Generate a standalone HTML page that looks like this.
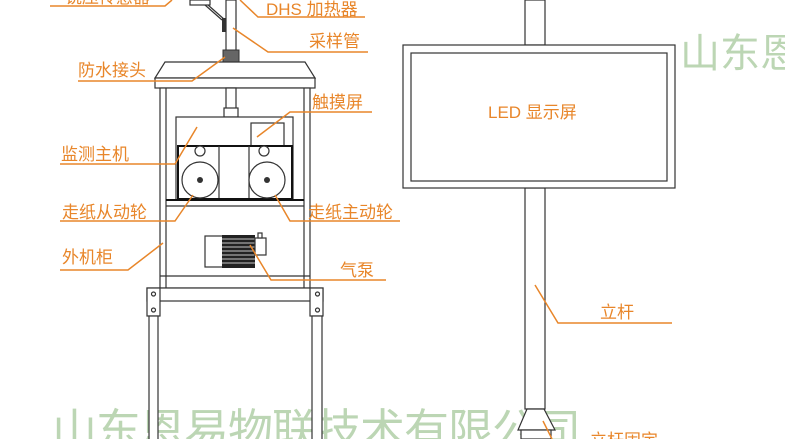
<!DOCTYPE html>
<html><head><meta charset="utf-8"><style>
html,body{margin:0;padding:0;background:#fff;width:785px;height:439px;overflow:hidden}
svg{display:block}
text{font-family:"Liberation Sans","Noto Sans CJK SC",sans-serif}
.o{fill:#e8862a;font-size:17px}
.l{stroke:#e8862a;stroke-width:1.5;fill:none}
.k{stroke:#333;stroke-width:1.2;fill:#fff}
.kn{stroke:#333;stroke-width:1.2;fill:none}
</style></head><body>
<svg width="785" height="439" viewBox="0 0 785 439" overflow="hidden">
<!-- watermarks -->
<text x="680" y="67" fill="#bcd6b4" font-size="40" style="font-family:'Noto Sans CJK SC',sans-serif">山东恩</text>
<text x="52" y="446" fill="#bcd6b4" font-size="45" letter-spacing="-1" style="font-family:'Noto Sans CJK SC',sans-serif">山东恩易物联技术有限公司</text>

<!-- top sensor / pipe -->
<rect x="190" y="0" width="20" height="5" class="k"/>
<line x1="205" y1="5" x2="222" y2="20" class="kn"/>
<line x1="208" y1="5" x2="225" y2="20" class="kn"/>
<rect x="222" y="18" width="4" height="14" fill="#333"/>
<rect x="226" y="0" width="10" height="52" class="k"/>
<rect x="223" y="50" width="16" height="12" fill="#666" stroke="#333"/>
<!-- cap -->
<polygon points="165,62 305,62 315,78 155,78" class="k"/>
<rect x="155" y="78" width="160" height="10" class="k"/>
<!-- cabinet -->
<rect x="160" y="88" width="150" height="200" class="k"/>
<line x1="166" y1="88" x2="166" y2="288" class="kn"/>
<line x1="304" y1="88" x2="304" y2="288" class="kn"/>
<rect x="226" y="88" width="10" height="26" class="k"/>
<rect x="224" y="108" width="14" height="9" class="k"/>
<!-- monitor -->
<rect x="176" y="117" width="117" height="83" class="k"/>
<rect x="251" y="123" width="33" height="23" class="k"/>
<rect x="178" y="146" width="114" height="53" fill="#fff" stroke="#111" stroke-width="2"/>
<line x1="219" y1="146" x2="219" y2="198" class="kn"/>
<line x1="249" y1="146" x2="249" y2="198" class="kn"/>
<circle cx="200" cy="151" r="5" class="k"/>
<circle cx="264" cy="151" r="5" class="k"/>
<circle cx="200" cy="180" r="18" class="k"/>
<circle cx="267" cy="180" r="18" class="k"/>
<circle cx="200" cy="180" r="3" fill="#333"/>
<circle cx="267" cy="180" r="3" fill="#333"/>
<line x1="166" y1="200" x2="304" y2="200" stroke="#111" stroke-width="2"/>
<line x1="166" y1="206" x2="304" y2="206" class="kn"/>
<!-- pump -->
<rect x="205" y="236" width="18" height="31" class="k"/>
<rect x="222" y="235" width="33" height="33" fill="#222"/>
<g stroke="#fff" stroke-width="0.8">
<line x1="222" y1="239" x2="255" y2="239"/><line x1="222" y1="243" x2="255" y2="243"/><line x1="222" y1="247" x2="255" y2="247"/><line x1="222" y1="251" x2="255" y2="251"/><line x1="222" y1="255" x2="255" y2="255"/><line x1="222" y1="259" x2="255" y2="259"/><line x1="222" y1="263" x2="255" y2="263"/></g>
<rect x="255" y="238" width="11" height="17" class="k"/>
<rect x="258" y="233" width="4" height="5" class="k"/>
<!-- shelf and legs -->
<line x1="160" y1="276" x2="310" y2="276" class="kn"/>
<rect x="147" y="288" width="176" height="13" class="k"/>
<rect x="147" y="288" width="13" height="28" class="k"/>
<rect x="310" y="288" width="13" height="28" class="k"/>
<circle cx="153.5" cy="294" r="2" class="k"/><circle cx="153.5" cy="310" r="2" class="k"/>
<circle cx="317.5" cy="294" r="2" class="k"/><circle cx="317.5" cy="310" r="2" class="k"/>
<rect x="149" y="316" width="9" height="124" class="k"/>
<rect x="312" y="316" width="10" height="124" class="k"/>

<!-- left labels -->
<text class="o" x="65" y="3">铳压传感器</text>
<polyline class="l" points="50,6 165,6 172,0"/>
<text class="o" x="266" y="15">DHS 加热器</text>
<polyline class="l" points="240,0 258,17 365,17"/>
<text class="o" x="309" y="47">采样管</text>
<polyline class="l" points="233,28 268,52 368,52"/>
<text class="o" x="78" y="76">防水接头</text>
<polyline class="l" points="78,81 192,81 225,57"/>
<text class="o" x="312" y="108">触摸屏</text>
<polyline class="l" points="257,137 290,112 372,112"/>
<text class="o" x="61" y="160">监测主机</text>
<polyline class="l" points="60,164 175,164 197,127"/>
<text class="o" x="62" y="218">走纸从动轮</text>
<polyline class="l" points="60,221 175,221 193,195"/>
<text class="o" x="308" y="218">走纸主动轮</text>
<polyline class="l" points="275,195 290,221 400,221"/>
<text class="o" x="62" y="263">外机柜</text>
<polyline class="l" points="60,270 128,270 163,243"/>
<text class="o" x="340" y="276">气泵</text>
<polyline class="l" points="250,245 271,280 386,280"/>

<!-- right: LED and pole -->
<rect x="525" y="0" width="20" height="45" class="k"/>
<rect x="525" y="188" width="20" height="221" class="k"/>
<rect x="403" y="45" width="272" height="143" class="k"/>
<rect x="411" y="53" width="256" height="128" class="k"/>
<text class="o" x="488" y="118" font-size="16">LED 显示屏</text>
<text class="o" x="600" y="318">立杆</text>
<polyline class="l" points="535,285 558,323 672,323"/>
<polygon points="527,409 544,409 555,430 518,430" class="k"/>
<rect x="521" y="430" width="30" height="9" class="k"/>
<polyline class="l" points="543,421 552,439"/>
<text class="o" x="590" y="446">立杆固定</text>
</svg>
</body></html>
